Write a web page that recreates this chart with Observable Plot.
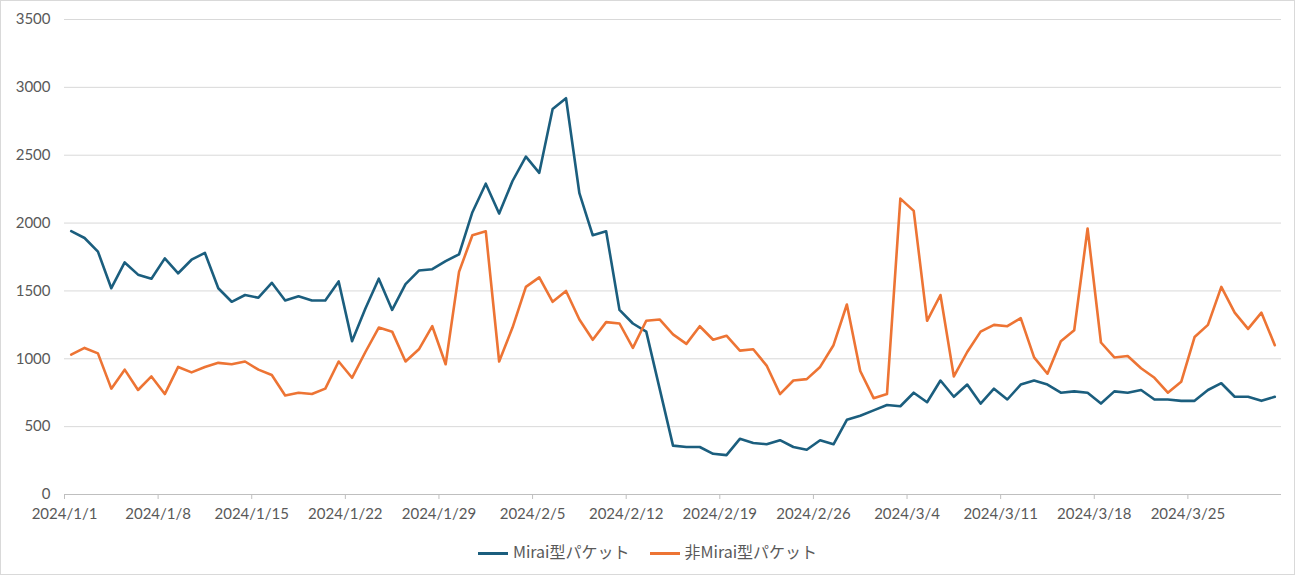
<!DOCTYPE html>
<html><head><meta charset="utf-8">
<script src="https://cdn.jsdelivr.net/npm/d3@7"></script>
<script src="https://cdn.jsdelivr.net/npm/@observablehq/plot@0.6"></script>
<style>
body{margin:0;background:#fff;font-family:Lato,"Noto Sans CJK JP",sans-serif;}
#wrap{position:absolute;left:0;top:0;width:1293px;height:573px;border:1px solid #d9d9d9;}
#legend{position:absolute;top:538px;left:0;width:1293px;text-align:center;font-size:16px;color:#595959;font-family:"Noto Sans CJK JP",sans-serif;}
#legend span{display:inline-block;margin:0 10px;}
#legend i{display:inline-block;width:30px;height:3px;vertical-align:middle;margin-right:5px;}
</style></head><body>
<div id="wrap"><div id="chart"></div>
<div id="legend"><span><i style="background:#1b5e7e"></i>Mirai型パケット</span><span><i style="background:#ed7434"></i>非Mirai型パケット</span></div></div>
<script>
const startDate = "2024-01-01";
const seriesNames = ["Mirai型パケット", "非Mirai型パケット"];
const mirai = [1940,1890,1790,1520,1710,1620,1590,1740,1630,1730,1780,1520,1420,1470,1450,1560,1430,1460,1430,1430,1570,1130,1370,1590,1360,1550,1650,1660,1720,1770,2080,2290,2070,2310,2490,2370,2840,2920,2220,1910,1940,1360,1260,1200,780,360,350,350,300,290,410,380,370,400,350,330,400,370,550,580,620,660,650,750,680,840,720,810,670,780,700,810,840,810,750,760,750,670,760,750,770,700,700,690,690,770,820,720,720,690,720];
const nonMirai = [1030,1080,1040,780,920,770,870,740,940,900,940,970,960,980,920,880,730,750,740,780,980,860,1050,1230,1200,980,1070,1240,960,1640,1910,1940,980,1230,1530,1600,1420,1500,1290,1140,1270,1260,1080,1280,1290,1180,1110,1240,1140,1170,1060,1070,950,740,840,850,940,1100,1400,910,710,740,2180,2090,1280,1470,870,1050,1200,1250,1240,1300,1010,890,1130,1210,1960,1120,1010,1020,930,860,750,830,1160,1250,1530,1340,1220,1340,1100];
const xTickLabels = ["2024/1/1","2024/1/8","2024/1/15","2024/1/22","2024/1/29","2024/2/5","2024/2/12","2024/2/19","2024/2/26","2024/3/4","2024/3/11","2024/3/18","2024/3/25"];
const yTicks = [0,500,1000,1500,2000,2500,3000,3500];
const colors = ["#1b5e7e", "#ed7434"];

const day = i => new Date(Date.UTC(2024,0,1) + i*86400000);
const rows = [];
mirai.forEach((v,i)=>rows.push({date:day(i+0.5),value:v,series:seriesNames[0]}));
nonMirai.forEach((v,i)=>rows.push({date:day(i+0.5),value:v,series:seriesNames[1]}));
const xTicks = xTickLabels.map((s,i)=>day(i*7));
const labelOf = new Map(xTicks.map((d,i)=>[+d, xTickLabels[i]]));
const fmt = d => labelOf.get(+d) ?? "";

const plot = Plot.plot({
  width:1293, height:525,
  marginTop:18, marginBottom:32, marginLeft:63, marginRight:13,
  style:{fontSize:"15px", color:"#595959", fontFamily:"Lato, sans-serif"},
  x:{type:"utc", domain:[day(0), day(91)], label:null},
  y:{domain:[0,3500], label:null},
  color:{domain:seriesNames, range:colors},
  marks:[
    Plot.gridY(yTicks,{stroke:"#d9d9d9", strokeOpacity:1}),
    Plot.axisY({ticks:yTicks, tickFormat:d=>String(d), tickSize:0, tickPadding:14, label:null}),
    Plot.axisX({ticks:xTicks, tickFormat:fmt, tickSize:5, tickPadding:9, label:null, stroke:"#bfbfbf"}),
    Plot.ruleY([0],{stroke:"#bfbfbf"}),
    Plot.lineY(rows,{x:"date", y:"value", stroke:"series", strokeWidth:2.6, strokeLinejoin:"round"})
  ]
});
document.getElementById("chart").appendChild(plot);
</script></body></html>
